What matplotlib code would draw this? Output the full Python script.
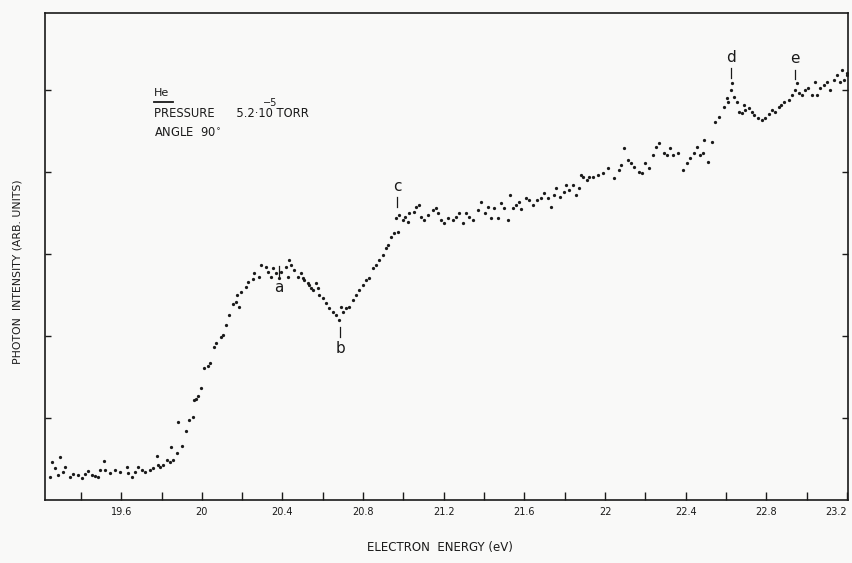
import matplotlib
matplotlib.use("Agg")
import matplotlib.pyplot as plt
from matplotlib.ticker import FixedLocator, FixedFormatter

# ---- data (electron energy in eV, intensity in arb. units) ----
energy = [
    19.248, 19.258, 19.272, 19.287, 19.297, 19.312, 19.322, 19.347, 19.362, 19.387,
    19.406, 19.421, 19.436, 19.456, 19.471, 19.486, 19.496, 19.516, 19.521, 19.545,
    19.570, 19.595, 19.630, 19.635, 19.655, 19.670, 19.684, 19.704, 19.719, 19.744,
    19.759, 19.779, 19.784, 19.794, 19.808, 19.828, 19.843, 19.848, 19.858, 19.878,
    19.883, 19.903, 19.923, 19.937, 19.957, 19.962, 19.972, 19.982, 19.997, 20.012,
    20.032, 20.042, 20.062, 20.071, 20.096, 20.106, 20.121, 20.136, 20.156, 20.171,
    20.176, 20.186, 20.196, 20.220, 20.230, 20.255, 20.260, 20.285, 20.295, 20.320,
    20.330, 20.344, 20.354, 20.369, 20.384, 20.394, 20.419, 20.429, 20.434, 20.444,
    20.459, 20.478, 20.493, 20.503, 20.508, 20.528, 20.533, 20.543, 20.553, 20.568,
    20.578, 20.583, 20.603, 20.617, 20.632, 20.652, 20.667, 20.682, 20.692, 20.702,
    20.717, 20.732, 20.751, 20.766, 20.781, 20.801, 20.816, 20.831, 20.851, 20.866,
    20.880, 20.900, 20.915, 20.925, 20.940, 20.955, 20.965, 20.975, 20.980, 21.000,
    21.009, 21.024, 21.029, 21.054, 21.064, 21.079, 21.089, 21.104, 21.124, 21.148,
    21.163, 21.173, 21.188, 21.203, 21.223, 21.248, 21.263, 21.277, 21.297, 21.312,
    21.327, 21.347, 21.372, 21.387, 21.402, 21.421, 21.436, 21.451, 21.471, 21.486,
    21.501, 21.521, 21.526, 21.545, 21.560, 21.575, 21.585, 21.610, 21.625, 21.645,
    21.660, 21.684, 21.699, 21.719, 21.734, 21.749, 21.759, 21.774, 21.794, 21.808,
    21.823, 21.843, 21.858, 21.873, 21.883, 21.893, 21.908, 21.918, 21.942, 21.967,
    21.992, 22.017, 22.042, 22.067, 22.081, 22.096, 22.116, 22.131, 22.146, 22.166,
    22.181, 22.196, 22.220, 22.240, 22.255, 22.270, 22.290, 22.305, 22.320, 22.339,
    22.364, 22.389, 22.404, 22.419, 22.439, 22.454, 22.469, 22.488, 22.493, 22.513,
    22.528, 22.543, 22.563, 22.588, 22.603, 22.612, 22.627, 22.632, 22.642, 22.652,
    22.662, 22.677, 22.687, 22.692, 22.712, 22.727, 22.741, 22.761, 22.776, 22.791,
    22.811, 22.826, 22.841, 22.861, 22.875, 22.890, 22.910, 22.925, 22.940, 22.950,
    22.960, 22.975, 22.990, 23.009, 23.024, 23.039, 23.049, 23.064, 23.084, 23.099,
    23.114, 23.134, 23.148, 23.163, 23.173, 23.183, 23.198, 23.200,
]
intensity = [
    0.28, 0.46, 0.39, 0.30, 0.52, 0.34, 0.40, 0.28, 0.32, 0.30,
    0.27, 0.32, 0.35, 0.30, 0.29, 0.28, 0.37, 0.48, 0.37, 0.33,
    0.37, 0.34, 0.40, 0.33, 0.28, 0.34, 0.40, 0.37, 0.34, 0.37,
    0.39, 0.54, 0.43, 0.40, 0.43, 0.49, 0.46, 0.65, 0.49, 0.57,
    0.95, 0.66, 0.84, 0.98, 1.01, 1.22, 1.23, 1.27, 1.37, 1.61,
    1.63, 1.67, 1.87, 1.91, 1.99, 2.01, 2.13, 2.26, 2.39, 2.41,
    2.50, 2.35, 2.54, 2.60, 2.66, 2.70, 2.77, 2.72, 2.87, 2.84,
    2.78, 2.72, 2.83, 2.77, 2.71, 2.78, 2.84, 2.72, 2.93, 2.87,
    2.80, 2.72, 2.77, 2.71, 2.68, 2.65, 2.62, 2.59, 2.56, 2.65,
    2.59, 2.50, 2.46, 2.40, 2.34, 2.29, 2.26, 2.20, 2.35, 2.29,
    2.34, 2.35, 2.44, 2.50, 2.56, 2.62, 2.68, 2.71, 2.83, 2.87,
    2.93, 2.99, 3.07, 3.11, 3.21, 3.26, 3.44, 3.27, 3.48, 3.41,
    3.45, 3.39, 3.50, 3.51, 3.57, 3.60, 3.45, 3.41, 3.48, 3.54,
    3.56, 3.50, 3.41, 3.38, 3.44, 3.41, 3.45, 3.50, 3.38, 3.50,
    3.45, 3.41, 3.54, 3.63, 3.50, 3.57, 3.44, 3.56, 3.44, 3.62,
    3.56, 3.41, 3.72, 3.56, 3.60, 3.63, 3.55, 3.68, 3.66, 3.60,
    3.66, 3.68, 3.74, 3.68, 3.57, 3.72, 3.80, 3.70, 3.76, 3.84,
    3.78, 3.84, 3.72, 3.80, 3.96, 3.94, 3.90, 3.94, 3.94, 3.96,
    3.99, 4.05, 3.93, 4.02, 4.09, 4.29, 4.15, 4.11, 4.06, 4.00,
    3.99, 4.11, 4.05, 4.21, 4.30, 4.35, 4.23, 4.21, 4.29, 4.21,
    4.23, 4.02, 4.11, 4.17, 4.23, 4.30, 4.21, 4.23, 4.39, 4.12,
    4.37, 4.61, 4.67, 4.79, 4.90, 4.85, 5.00, 5.09, 4.91, 4.85,
    4.73, 4.72, 4.82, 4.76, 4.78, 4.73, 4.70, 4.66, 4.63, 4.66,
    4.71, 4.76, 4.73, 4.79, 4.82, 4.85, 4.88, 4.94, 5.00, 5.09,
    4.96, 4.94, 5.00, 5.02, 4.94, 5.10, 4.94, 5.02, 5.06, 5.10,
    5.00, 5.12, 5.18, 5.10, 5.24, 5.12, 5.21, 5.18,
]

# feature markers: label, energy (eV), intensity where the marker tick starts
peak_labels = ["a", "b", "c", "d", "e"]
peak_energy = [20.384, 20.687, 20.970, 22.627, 22.940]
peak_level = [2.90, 2.16, 3.52, 5.10, 5.08]
peak_side = ["below", "below", "above", "above", "above"]

x_major = [19.6, 20.0, 20.4, 20.8, 21.2, 21.6, 22.0, 22.4, 22.8, 23.2]
x_major_labels = ["19.6", "20", "20.4", "20.8", "21.2", "21.6", "22", "22.4", "22.8", "23.2"]
x_minor = [19.4, 19.8, 20.2, 20.6, 21.0, 21.4, 21.8, 22.2, 22.6, 23.0]
y_ticks = [1, 2, 3, 4, 5]

ink = "#1a1a1a"
paper = "#f9f9f8"

fig = plt.figure(figsize=(8.52, 5.63), dpi=100, facecolor=paper)
ax = fig.add_axes([45 / 852, 1 - 500 / 563, (848 - 45) / 852, (500 - 13) / 563])
ax.set_facecolor(paper)

ax.scatter(energy, intensity, s=5.5, c=ink, linewidths=0, zorder=3)

ax.set_xlim(19.222, 23.205)
ax.set_ylim(0, 5.94)

for lab, xe, ye, side in zip(peak_labels, peak_energy, peak_level, peak_side):
    if side == "below":
        ax.plot([xe, xe], [ye - 0.05, ye - 0.17], color=ink, lw=0.9)
        ax.text(xe, ye - 0.22, lab, ha="center", va="top", fontsize=11, color=ink)
    else:
        ax.plot([xe, xe], [ye + 0.05, ye + 0.17], color=ink, lw=0.9)
        ax.text(xe, ye + 0.21, lab, ha="center", va="bottom", fontsize=11, color=ink)

ax.xaxis.set_major_locator(FixedLocator(x_major))
ax.xaxis.set_major_formatter(FixedFormatter(x_major_labels))
ax.xaxis.set_minor_locator(FixedLocator(x_minor))
ax.yaxis.set_major_locator(FixedLocator(y_ticks))
ax.tick_params(axis="x", which="both", direction="in", length=6, width=1.0,
               color=ink, labelsize=7, labelcolor=ink, pad=5)
ax.tick_params(axis="y", which="both", direction="in", length=4, width=1.0,
               color=ink, left=True, right=True, labelleft=False)
for sp in ax.spines.values():
    sp.set_color(ink)
    sp.set_linewidth(1.2)
fig.canvas.draw()
xt = ax.get_xticklabels()
xt[-1].set_horizontalalignment("right")

fig.text(440 / 852, 1 - 548 / 563, "ELECTRON  ENERGY (eV)", fontsize=8.5, color=ink,
         ha="center", va="center")
fig.text(18 / 852, 1 - 272 / 563, "PHOTON  INTENSITY (ARB. UNITS)", fontsize=7.8,
         color=ink, ha="center", va="center", rotation=90)

ax.text(0.136, 0.835, "He", transform=ax.transAxes, fontsize=8, color=ink,
        ha="left", va="center")
ax.plot([0.136, 0.159], [0.818, 0.818], transform=ax.transAxes, color=ink, lw=1.3)
ax.text(0.136, 0.793, "PRESSURE      5.2\u00b710 TORR", transform=ax.transAxes,
        fontsize=8.3, color=ink, ha="left", va="center")
fig.text(270 / 852, 1 - 103 / 563, "\u22125", fontsize=7, color=ink,
         ha="center", va="center")
ax.text(0.136, 0.752, "ANGLE  90$^{\\circ}$", transform=ax.transAxes, fontsize=8.3,
        color=ink, ha="left", va="center")

fig.savefig("out.png", dpi=100, facecolor=paper)
